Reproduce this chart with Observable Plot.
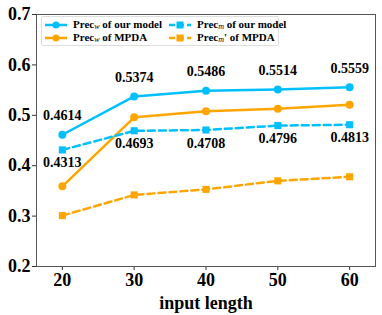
<!DOCTYPE html>
<html><head><meta charset="utf-8">
<script src="https://cdn.jsdelivr.net/npm/d3@7"></script>
<script src="https://cdn.jsdelivr.net/npm/@observablehq/plot@0.6"></script>
<style>
body{margin:0;background:#fff;}
#wrap{position:relative;width:382px;height:315px;font-family:"Liberation Serif","Times New Roman",serif;}
#chart svg, #chart svg text{font-family:"Liberation Serif","Times New Roman",serif !important;font-weight:bold;}
#legend{position:absolute;left:41px;top:16px;width:236px;height:28px;border:1px solid #ddd;border-radius:2px;background:rgba(255,255,255,0.9);font-weight:bold;font-size:11px;font-family:"Liberation Serif","Times New Roman",serif;}
.item{position:absolute;display:flex;align-items:center;white-space:nowrap;height:13px;}
.item svg{margin-right:5px;}
sub{font-style:italic;font-size:8px;vertical-align:-1px;font-weight:normal;}
</style></head>
<body><div id="wrap"><div id="chart"></div><div id="legend"></div></div>
<script>
const inputLength = [20, 30, 40, 50, 60];
const precWOurs = [0.4614, 0.5374, 0.5486, 0.5514, 0.5559];
const precMOurs = [0.4313, 0.4693, 0.4708, 0.4796, 0.4813];
const precWMPDA = [0.359, 0.496, 0.508, 0.513, 0.521];
const precMMPDA = [0.301, 0.342, 0.353, 0.370, 0.378];
const yTicks = [0.2, 0.3, 0.4, 0.5, 0.6, 0.7];
const blue = "#00BFFF", orange = "#FFA500";

const mk = (arr) => inputLength.map((x, i) => ({x, y: arr[i]}));
const dWO = mk(precWOurs), dMO = mk(precMOurs), dWM = mk(precWMPDA), dMM = mk(precMMPDA);

const chart = Plot.plot({
  width: 382, height: 315,
  marginLeft: 36, marginRight: 7, marginTop: 14, marginBottom: 49,
  style: {background: "#fff"},
  x: {domain: [16.4, 63.6]},
  y: {domain: [0.2, 0.7]},
  marks: [
    Plot.axisX({ticks: inputLength, tickFormat: d => d, tickSize: 4, tickPadding: 3, fontSize: 18, label: "input length", labelAnchor: "center", labelArrow: "none", labelOffset: 42, stroke: "#333", fill: "#000"}),
    Plot.axisY({ticks: yTicks, tickFormat: d => d.toFixed(1), tickSize: 4, tickPadding: 2, fontSize: 18, label: null, stroke: "#333", fill: "#000"}),
    Plot.line(dMM, {x: "x", y: "y", stroke: orange, strokeWidth: 2.5, strokeDasharray: "7,4"}),
    Plot.dot(dMM, {x: "x", y: "y", symbol: "square", fill: orange, r: 4}),
    Plot.line(dWM, {x: "x", y: "y", stroke: orange, strokeWidth: 2.5}),
    Plot.dot(dWM, {x: "x", y: "y", fill: orange, r: 4}),
    Plot.line(dMO, {x: "x", y: "y", stroke: blue, strokeWidth: 2.5, strokeDasharray: "7,4"}),
    Plot.dot(dMO, {x: "x", y: "y", symbol: "square", fill: blue, r: 4}),
    Plot.line(dWO, {x: "x", y: "y", stroke: blue, strokeWidth: 2.5}),
    Plot.dot(dWO, {x: "x", y: "y", fill: blue, r: 4}),
    Plot.text(dWO, {x: "x", y: "y", text: d => d.y.toFixed(4), dy: -19, fontSize: 14, fontWeight: "bold", fill: "#000"}),
    Plot.text(dMO, {x: "x", y: "y", text: d => d.y.toFixed(4), dy: 13, fontSize: 14, fontWeight: "bold", fill: "#000"}),
    Plot.frame({stroke: "#555", strokeWidth: 1})
  ]
});
document.getElementById("chart").appendChild(chart);

const legendItems = [
  {label: 'Prec<sub>w</sub> of our model', color: blue, dash: false, sym: "circle", left: 2, top: 1},
  {label: 'Prec<sub>w</sub> of MPDA', color: orange, dash: false, sym: "circle", left: 2, top: 14},
  {label: 'Prec<sub>m</sub> of our model', color: blue, dash: true, sym: "square", left: 126, top: 1},
  {label: 'Prec<sub>m</sub>\' of MPDA', color: orange, dash: true, sym: "square", left: 126, top: 14}
];
const leg = document.getElementById("legend");
for (const it of legendItems) {
  const div = document.createElement("div");
  div.className = "item";
  div.style.left = it.left + "px"; div.style.top = it.top + "px";
  const mark = it.sym === "circle"
    ? '<circle cx="12" cy="6" r="3.5" fill="' + it.color + '"/>'
    : '<rect x="8.5" y="2.5" width="7" height="7" fill="' + it.color + '"/>';
  div.innerHTML = '<svg width="24" height="12"><line x1="1" x2="23" y1="6" y2="6" stroke="' + it.color + '" stroke-width="2.5"' + (it.dash ? ' stroke-dasharray="6,3"' : '') + '/>' + mark + '</svg><span>' + it.label + '</span>';
  leg.appendChild(div);
}
</script></body></html>
